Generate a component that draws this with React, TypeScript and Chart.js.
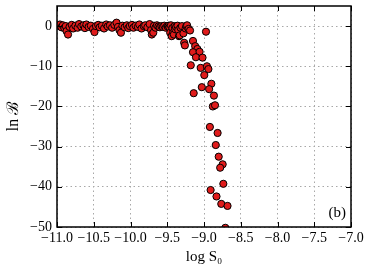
import React, { useEffect, useRef } from "react";
import { Chart, registerables } from "chart.js";

Chart.register(...registerables);

// flat region + fall-off, log S0 values
const logS0: number[] = [
  -10.98, -10.96, -10.94, -10.92, -10.9, -10.88, -10.87, -10.85, -10.83, -10.8, -10.78, -10.75,
  -10.72, -10.7, -10.67, -10.64, -10.62, -10.6, -10.57, -10.54, -10.51, -10.49, -10.47,
  -10.44, -10.42, -10.39, -10.36, -10.33, -10.31, -10.28, -10.25, -10.22, -10.19, -10.17,
  -10.15, -10.13, -10.11, -10.08, -10.05, -10.03, -10.01,
  -9.98, -9.96, -9.93, -9.9, -9.88, -9.85, -9.82, -9.8, -9.77, -9.74, -9.72, -9.71, -9.69,
  -9.68, -9.66, -9.64, -9.62, -9.6, -9.58, -9.56, -9.54, -9.52,
  -9.5, -9.49, -9.48, -9.47, -9.46, -9.45, -9.44, -9.43, -9.42, -9.41, -9.4, -9.39, -9.38,
  -9.36, -9.35, -9.34, -9.33, -9.32, -9.3, -9.28, -9.27, -9.26, -9.25, -9.24, -9.23, -9.21, -9.19,
  -9.15, -9.12, -9.09, -9.15, -9.06, -9.11, -9.02, -8.973, -9.18, -9.045, -8.96, -8.94, -8.996,
  -8.9, -9.03, -8.93, -9.14, -8.865, -8.88, -8.85, -8.92, -8.815, -8.84, -8.8, -8.746, -8.78,
  -8.737, -8.91, -8.83, -8.765, -8.68, -8.71,
];

const lnB: number[] = [
  0.1, 0.4, -0.3, 0.2, -0.5, 0.0, -1.25, -2.1, -0.2, 0.3, -0.6, 0.1,
  -0.4, 0.5, -0.1, 0.2, -0.5, 0.4, -0.2, 0.1, -0.7, -1.5, 0.0,
  0.3, -0.3, 0.1, -0.6, 0.4, -0.1, 0.2, -0.4, 0.3, 0.85, -0.2,
  -1.0, -1.65, 0.1, -0.3, 0.2, -0.5, 0.0,
  0.3, -0.4, 0.1, -0.2, 0.4, -0.6, 0.0, 0.2, -0.3, 0.5, -1.0, -2.1, -1.65,
  0.1, -0.4, 0.2, -0.1, -0.3, 0.0, -0.2, 0.1, -0.4,
  0.0, -0.2, 0.1, -0.3, -1.65, 0.2, -2.5, -0.5, -1.65, -2.1, 0.0, -0.8, -0.2,
  0.1, -1.0, -2.5, -2.3, -0.4, 0.0, -1.8, -4.15, -4.8, -0.6, 0.0, 0.2, -0.7, -1.1,
  -3.7, -5.0, -5.7, -6.5, -6.4, -7.75, -7.85, -1.4, -9.75, -10.4, -10.0, -10.7, -12.2,
  -14.35, -15.2, -15.7, -16.7, -17.3, -20.0, -19.7, -25.1, -26.6, -29.6, -32.5, -34.4, -35.25,
  -39.25, -40.8, -42.4, -44.25, -44.75, -50.2,
];

const xTicks: number[] = [-11, -10.5, -10, -9.5, -9, -8.5, -8, -7.5, -7];
const yTicks: number[] = [-50, -40, -30, -20, -10, 0];
const panelLabel = "(b)";

const fmt = (v: number, d: number) => (v < 0 ? "\u2212" : "") + Math.abs(v).toFixed(d);

const FONT = "'Liberation Serif', 'DejaVu Serif', serif";

const framePlugin = {
  id: "frameTicks",
  afterDraw(chart: any) {
    const { ctx, chartArea: a, scales } = chart;
    const xs = scales.x;
    const ys = scales.y;
    ctx.save();
    ctx.strokeStyle = "#000";
    ctx.lineWidth = 1;
    const L = 5;
    ctx.beginPath();
    for (const t of xTicks) {
      const px = Math.round(xs.getPixelForValue(t)) + 0.5;
      ctx.moveTo(px, a.bottom);
      ctx.lineTo(px, a.bottom - L);
      ctx.moveTo(px, a.top);
      ctx.lineTo(px, a.top + L);
    }
    for (const t of yTicks) {
      const py = Math.round(ys.getPixelForValue(t)) + 0.5;
      ctx.moveTo(a.left, py);
      ctx.lineTo(a.left + L, py);
      ctx.moveTo(a.right, py);
      ctx.lineTo(a.right - L, py);
    }
    ctx.stroke();
    ctx.lineWidth = 1.5;
    ctx.strokeRect(a.left, a.top, a.right - a.left, a.bottom - a.top);
    ctx.fillStyle = "#000";
    ctx.font = "15px " + FONT;
    ctx.textAlign = "right";
    ctx.textBaseline = "bottom";
    ctx.fillText(panelLabel, a.right - 5, a.bottom - 6);
    ctx.restore();
  },
};

export default function App() {
  const ref = useRef<HTMLCanvasElement>(null);
  useEffect(() => {
    if (!ref.current) return;
    const points = logS0.map((x, i) => ({ x, y: lnB[i] }));
    const chart = new Chart(ref.current, {
      type: "scatter",
      data: {
        datasets: [
          {
            data: points,
            backgroundColor: "#e01b1b",
            borderColor: "#000",
            borderWidth: 1,
            pointRadius: 3.6,
            clip: 0,
          } as any,
        ],
      },
      options: {
        responsive: false,
        animation: false,
        devicePixelRatio: 1,
        layout: { padding: { left: 0, top: 6, right: 23, bottom: 0 } },
        plugins: { legend: { display: false }, tooltip: { enabled: false } },
        scales: {
          x: {
            type: "linear",
            min: -11,
            max: -7,
            afterBuildTicks: (s: any) => {
              s.ticks = xTicks.map((v) => ({ value: v }));
            },
            afterFit: (s: any) => {
              s.height = 41;
              s.paddingLeft = 0;
              s.paddingRight = 0;
            },
            ticks: {
              callback: (v: any) => fmt(Number(v), 1),
              color: "#000",
              font: { family: FONT, size: 14 },
              padding: 3,
              maxRotation: 0,
              autoSkip: false,
            },
            grid: { color: "#a8a8a8", lineWidth: 1, drawTicks: false },
            border: { display: false, dash: [1.5, 3] },
            title: {
              display: true,
              text: "log S\u2080",
              color: "#000",
              font: { family: FONT, size: 15 },
              padding: { top: 0, bottom: 2 },
            },
          },
          y: {
            type: "linear",
            min: -50,
            max: 5,
            afterBuildTicks: (s: any) => {
              s.ticks = yTicks.map((v) => ({ value: v }));
            },
            afterFit: (s: any) => {
              s.width = 57;
              s.paddingTop = 0;
              s.paddingBottom = 0;
            },
            ticks: {
              callback: (v: any) => fmt(Number(v), 0),
              color: "#000",
              font: { family: FONT, size: 14 },
              padding: 5,
              autoSkip: false,
            },
            grid: { color: "#a8a8a8", lineWidth: 1, drawTicks: false },
            border: { display: false, dash: [1.5, 3] },
            title: {
              display: true,
              text: "ln \u212C",
              color: "#000",
              font: { family: FONT, size: 16 },
              padding: { top: 4, bottom: 0 },
            },
          },
        },
      },
      plugins: [framePlugin],
    });
    return () => chart.destroy();
  }, []);
  return (
    <div style={{ position: "absolute", left: 0, top: 0, width: 374, height: 268, background: "#fff" }}>
      <canvas ref={ref} width={374} height={268} />
    </div>
  );
}
